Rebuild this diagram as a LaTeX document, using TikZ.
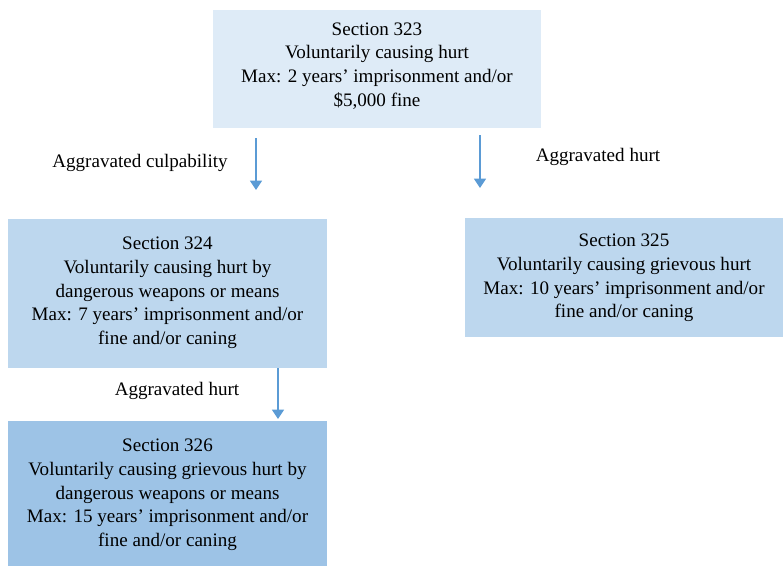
\documentclass[tikz,border=0pt]{standalone}
\usepackage{fontspec}
\setmainfont{Liberation Serif}
\usetikzlibrary{arrows.meta}

\definecolor{pale}{HTML}{DEEBF7}
\definecolor{mid}{HTML}{BDD7EE}
\definecolor{deep}{HTML}{9DC3E6}
\definecolor{arr}{HTML}{5B9BD5}

\begin{document}
\begin{tikzpicture}
    [x=0.75pt, y=-0.75pt,
    box/.style={inner sep=0pt, align=center, font=\fontsize{14.3}{17.8}\selectfont},
    lbl/.style={inner sep=0pt, font=\fontsize{14.3}{17.8}\selectfont},
    ->-/.style={draw=arr, line width=1pt, -{Triangle[width=9pt, length=7pt]}}]
        \useasboundingbox (0,0) rectangle (783,565);

        \fill[pale] (213,10) rectangle (541,128);
        \fill[mid] (8,219) rectangle (327,368);
        \fill[mid] (465,218) rectangle (783,337);
        \fill[deep] (8,421) rectangle (327,570);

        \node[box] (S323) at (377,66) {Section 323\\Voluntarily causing hurt\\Max: 2 years’ imprisonment and/or\\\$5,000 fine};
        \node[box] (S324) at (167.5,293) {Section 324\\Voluntarily causing hurt by\\dangerous weapons or means\\Max: 7 years’ imprisonment and/or\\fine and/or caning};
        \node[box] (S325) at (624,278) {Section 325\\Voluntarily causing grievous hurt\\Max: 10 years’ imprisonment and/or\\fine and/or caning};
        \node[box] (S326) at (167.5,495) {Section 326\\Voluntarily causing grievous hurt by\\dangerous weapons or means\\Max: 15 years’ imprisonment and/or\\fine and/or caning};

        \node[lbl] (L1) at (140,163) {Aggravated culpability};
        \node[lbl] (L2) at (598,157) {Aggravated hurt};
        \node[lbl] (L3) at (177,391) {Aggravated hurt};

        \coordinate (A1) at (256,138);
        \coordinate (B1) at (256,190);
        \coordinate (A2) at (480,135);
        \coordinate (B2) at (480,188);
        \coordinate (A3) at (278,368);
        \coordinate (B3) at (278,419);

        \draw[->-] (A1) -- (B1);
        \draw[->-] (A2) -- (B2);
        \draw[->-] (A3) -- (B3);
\end{tikzpicture}
\end{document}
